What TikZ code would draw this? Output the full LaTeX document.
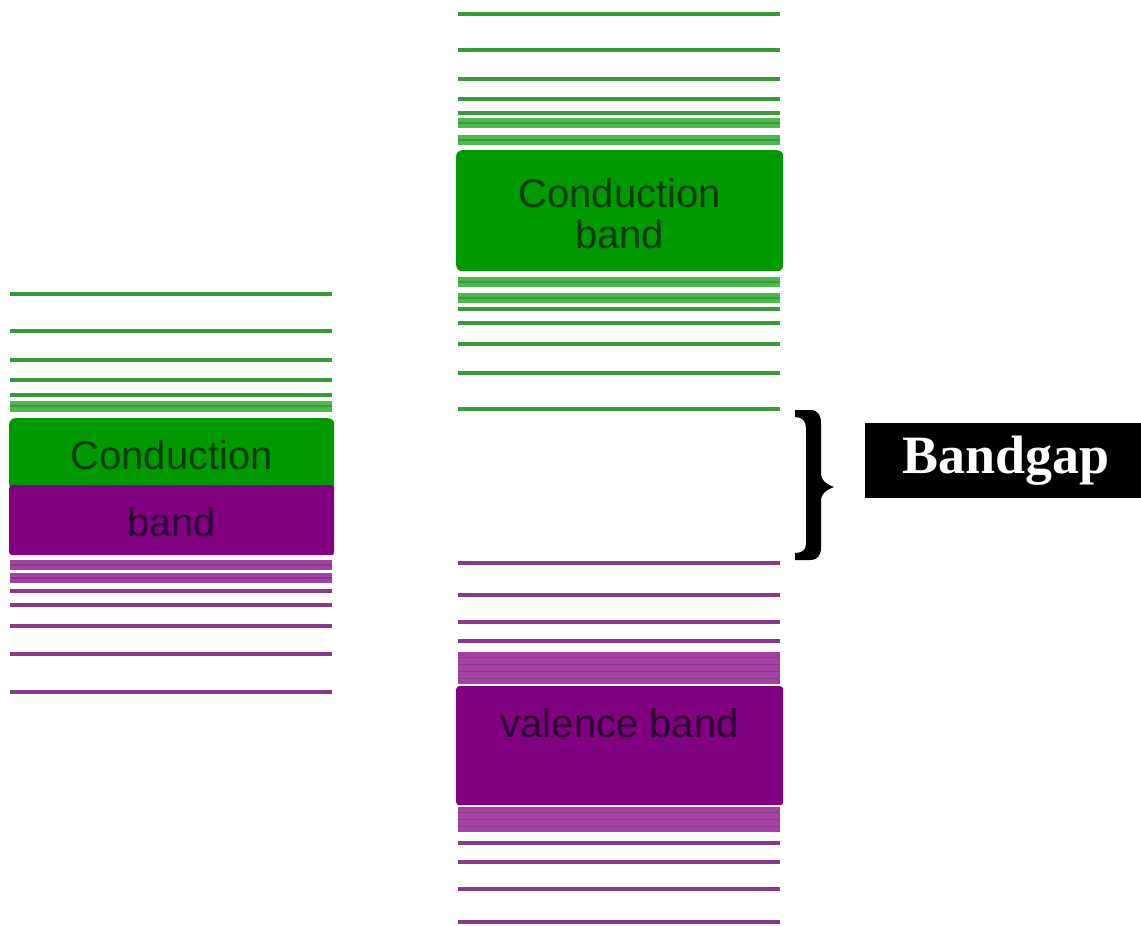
\documentclass[tikz,border=0pt]{standalone}
\usepackage{fontspec}
\setmainfont{Liberation Sans}
\newfontfamily\serifb{Liberation Serif}
\definecolor{gfill}{HTML}{009900}
\definecolor{gline}{HTML}{3A9A3A}
\definecolor{gband}{HTML}{4DB84D}
\definecolor{gtext}{HTML}{0B3D0B}
\definecolor{pfill}{HTML}{800080}
\definecolor{pline}{HTML}{873A87}
\definecolor{pband}{HTML}{A43FA4}
\definecolor{ptext}{HTML}{2A0632}
\tikzset{
  gl/.style={draw=gline,line width=3.2pt},
  pl/.style={draw=pline,line width=3.2pt},
  gb/.style={fill=gband},
  pb/.style={fill=pband},
  gbox/.style={fill=gfill,rounded corners=6pt,inner sep=0pt},
  pbox/.style={fill=pfill,rounded corners=3pt,inner sep=0pt},
  lbl/.style={font=\fontsize{40}{41}\selectfont,align=center,inner sep=0pt},
}
\begin{document}
\begin{tikzpicture}[x=1pt,y=-1pt]
\useasboundingbox (0,0) rectangle (1141,926);
\fill[white] (0,0) rectangle (1141,926);
% ---------- left column ----------
\foreach \y in {294,331,360,380,395} \draw[gl] (10,\y) -- (332,\y);
\fill[gb] (10,401) rectangle (332,412);
\draw[gline,line width=1.2pt] (10,406) -- (332,406);
\node[gbox,minimum width=325pt,minimum height=72pt,anchor=north west] (lg) at (9,418) {};
\node[pbox,minimum width=325pt,minimum height=70pt,anchor=north west] (lp) at (9,485) {};
\node[lbl,text=gtext] (lgt) at ([yshift=-1pt]lg.center) {Conduction};
\node[lbl,text=ptext] (lpt) at ([yshift=-2pt]lp.center) {band};
\fill[pb] (10,560) rectangle (332,570);
\fill[pb] (10,573) rectangle (332,583);
\draw[pline,line width=1.2pt] (10,565) -- (332,565);
\draw[pline,line width=1.2pt] (10,578) -- (332,578);
\foreach \y in {591,605,626,654,692} \draw[pl] (10,\y) -- (332,\y);
% ---------- right column ----------
\foreach \y in {14,50,79,99,113} \draw[gl] (458,\y) -- (780,\y);
\fill[gb] (458,118) rectangle (780,128);
\fill[gb] (458,135) rectangle (780,145);
\draw[gline,line width=1.2pt] (458,123) -- (780,123);
\draw[gline,line width=1.2pt] (458,140) -- (780,140);
\node[gbox,minimum width=327pt,minimum height=121pt,anchor=north west] (rg) at (456,150) {};
\node[lbl,text=gtext] (rgt) at ([yshift=-3pt]rg.center) {Conduction\\band};
\fill[gb] (458,277) rectangle (780,287);
\fill[gb] (458,293) rectangle (780,303);
\draw[gline,line width=1.2pt] (458,282) -- (780,282);
\draw[gline,line width=1.2pt] (458,298) -- (780,298);
\foreach \y in {309,323,344,373,409} \draw[gl] (458,\y) -- (780,\y);
\foreach \y in {563,595,622,641} \draw[pl] (458,\y) -- (780,\y);
\fill[pb] (458,652) rectangle (780,684);
\foreach \y in {657,664,671,678} \draw[pline,line width=1pt] (458,\y) -- (780,\y);
\node[pbox,minimum width=327pt,minimum height=119pt,anchor=north west] (rp) at (456,686) {};
\node[lbl,text=ptext] (rpt) at ([yshift=-37pt]rp.north) {valence band};
\fill[pb] (458,807) rectangle (780,832);
\foreach \y in {812,819,826} \draw[pline,line width=1pt] (458,\y) -- (780,\y);
\foreach \y in {843,862,889,922} \draw[pl] (458,\y) -- (780,\y);
% ---------- brace ----------
\coordinate (bt) at (795,410);
\coordinate (bb) at (795,560);
\fill[black] (bt) -- (810,410) .. controls (818,410) and (821,415) .. (821,423)
  -- (821,474) .. controls (821,480) and (826,484) .. (834,487)
  .. controls (826,490) and (821,494) .. (821,500)
  -- (821,547) .. controls (821,555) and (818,560) .. (810,560)
  -- (bb) -- (795,553) .. controls (802,553) and (806,550) .. (806,544)
  -- (806,428) .. controls (806,421) and (802,417) .. (795,417) -- cycle;
% ---------- Bandgap label ----------
\node[fill=black,minimum width=276pt,minimum height=75pt,inner sep=0pt,anchor=north west] (bg) at (865,423) {};
\node[text=white,font=\serifb\bfseries\fontsize{54}{56}\selectfont,inner sep=0pt] (bgt) at ([xshift=3pt]bg.center) {Bandgap};
\end{tikzpicture}
\end{document}
